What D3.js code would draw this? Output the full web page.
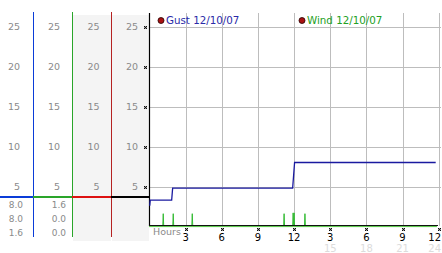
<!DOCTYPE html>
<html><head><meta charset="utf-8">
<script src="https://cdn.jsdelivr.net/npm/d3@7"></script>
<style>
html,body{margin:0;padding:0;background:#fff;}
svg{display:block;font-family:"DejaVu Sans",Verdana,sans-serif;}
</style></head>
<body>
<svg id="c" width="442" height="253"></svg>
<script>
// ---- data ----
const yTicks = [5, 10, 15, 20, 25];
const hourTicks = [3, 6, 9, 12, 15, 18, 21, 24];
const hourLabels = ["3", "6", "9", "12", "3", "6", "9", "12"];
const hourLabels24 = ["", "", "", "", "15", "18", "21", "24"];
const gustHours = [0.02, 0.06, 1.84, 1.92, 11.88, 11.96, 12.04, 23.75];
const gustMph   = [2.6,  3.3,  3.3,  4.8,  4.8,   6.4,   8.0,   8.0];
const windHours = [0, 1.1, 1.14, 1.18, 1.93, 1.97, 2.01, 3.51, 3.55, 3.59, 11.13, 11.17, 11.21, 11.88, 11.92, 11.96, 12.0, 12.04, 12.86, 12.9, 12.94, 23.8];
const windMph   = [0, 0,   1.6,  0,    0,    1.6,  0,    0,    1.6,  0,    0,     1.6,   0,     0,     1.7,   0.2,   1.7,  0,     0,     1.6,   0,     0];
const legendNames = ["Gust 12/10/07", "Wind 12/10/07"];
const colStats = [["8.0", "8.0", "1.6"], ["1.6", "0.0", "0.0"]];
const markerValue = 3.7;

// ---- scales ----
const svg = d3.select("#c");
const x = d3.scaleLinear().domain([0, 24]).range([149.5, 438.7]);
const y = d3.scaleLinear().domain([0, 25]).range([226.5, 26.5]);

// left panel backgrounds
svg.append("rect").attr("x", 73).attr("y", 15).attr("width", 38).attr("height", 226).attr("fill", "#f4f4f4");
svg.append("rect").attr("x", 112).attr("y", 15).attr("width", 37).attr("height", 226).attr("fill", "#f4f4f4");

// horizontal gridlines
svg.append("g").selectAll("line").data(yTicks).join("line")
  .attr("x1", 150).attr("x2", 441)
  .attr("y1", d => Math.round(y(d)) + 0.5).attr("y2", d => Math.round(y(d)) + 0.5)
  .attr("stroke", "#bdbdbd").attr("stroke-width", 1);
// vertical gridlines
svg.append("g").selectAll("line").data(hourTicks).join("line")
  .attr("x1", d => Math.round(x(d)) + 0.5).attr("x2", d => Math.round(x(d)) + 0.5)
  .attr("y1", 13).attr("y2", 226)
  .attr("stroke", "#bdbdbd").attr("stroke-width", 1);

// left column labels
const colRight = [20, 60, 99.5, 138];
colRight.forEach(cx => {
  svg.append("g").selectAll("text").data(yTicks).join("text")
    .attr("x", cx).attr("y", d => y(d) + 3.5)
    .attr("text-anchor", "end").attr("font-size", 9.5).attr("fill", "#8a8a8a")
    .text(d => d);
});

// stats under columns
const statRight = [23, 66];
colStats.forEach((arr, i) => {
  svg.append("g").selectAll("text").data(arr).join("text")
    .attr("x", statRight[i]).attr("y", (d, j) => 207.5 + j * 14)
    .attr("text-anchor", "end").attr("font-size", 9).attr("fill", "#8a8a8a")
    .text(d => d);
});

// column divider lines
const colLines = [[33.5, "#0a3cd8"], [72.5, "#2aa52a"], [111.5, "#b52222"]];
colLines.forEach(([cx, col]) => {
  svg.append("line").attr("x1", cx).attr("x2", cx).attr("y1", 12).attr("y2", 237)
    .attr("stroke", col).attr("stroke-width", 1);
});

// thick marker line across panels
const my = Math.round(y(markerValue)) ;
const segs = [[0, 33, "#0a3cd8"], [33, 72, "#2aa52a"], [72, 111, "#dd1111"], [111, 149, "#000"]];
segs.forEach(([a, b, col]) => {
  svg.append("rect").attr("x", a).attr("y", my - 1).attr("width", b - a).attr("height", 2).attr("fill", col);
});

// left axis line
svg.append("line").attr("x1", 149.5).attr("x2", 149.5).attr("y1", 13).attr("y2", 226).attr("stroke", "#000").attr("stroke-width", 1.2);

// small tick glyphs
function glyph(g, gx, gy) {
  [[0,0],[2,0],[1,1],[0,2],[2,2]].forEach(([dx, dy]) => {
    g.append("rect").attr("x", gx + dx).attr("y", gy + dy).attr("width", 1).attr("height", 1).attr("fill", "#111");
  });
  [[1,0],[0,1],[2,1],[1,2]].forEach(([dx, dy]) => {
    g.append("rect").attr("x", gx + dx).attr("y", gy + dy).attr("width", 1).attr("height", 1).attr("fill", "#999");
  });
}
const gg = svg.append("g");
yTicks.forEach(v => glyph(gg, 144, Math.round(y(v)) - 1));
hourTicks.forEach(h => glyph(gg, Math.round(x(h)) - 1, 228));

// wind line
const line = d3.line().x(d => x(d[0])).y(d => y(d[1]));
svg.append("path").datum(windHours.map((h, i) => [h, windMph[i]]))
  .attr("d", line).attr("fill", "none").attr("stroke", "#33bb33").attr("stroke-width", 1);

// bottom axis
svg.append("line").attr("x1", 149).attr("x2", 438).attr("y1", 225.5).attr("y2", 225.5).attr("stroke", "#111").attr("stroke-width", 1);
svg.append("line").attr("x1", 149).attr("x2", 437).attr("y1", 226.6).attr("y2", 226.6).attr("stroke", "#66cc55").attr("stroke-width", 1);

// gust line
svg.append("path").datum(gustHours.map((h, i) => [h, gustMph[i]]))
  .attr("d", line).attr("fill", "none").attr("stroke", "#1a1aa0").attr("stroke-width", 1.3);

// x tick labels
const lastI = hourTicks.length - 1;
const lx = (d, i) => i === lastI ? 441 : x(d);
const la = (d, i) => i === lastI ? "end" : "middle";
svg.append("g").selectAll("text").data(hourTicks).join("text")
  .attr("x", lx).attr("y", 241)
  .attr("text-anchor", la).attr("font-size", 10).attr("fill", "#000")
  .text((d, i) => hourLabels[i]);
svg.append("g").selectAll("text").data(hourTicks).join("text")
  .attr("x", lx).attr("y", 252)
  .attr("text-anchor", la).attr("font-size", 10).attr("fill", "#dcdcdc")
  .text((d, i) => hourLabels24[i]);
svg.append("text").attr("x", 153).attr("y", 235).attr("font-size", 9.5).attr("fill", "#8a8a8a").text("Hours");

// legend
const legX = [161, 302];
const legCol = ["#2a2aa8", "#22a022"];
legendNames.forEach((n, i) => {
  svg.append("circle").attr("cx", legX[i]).attr("cy", 20.5).attr("r", 3).attr("fill", "#aa1111").attr("stroke", "#220000").attr("stroke-width", 0.8);
  svg.append("text").attr("x", legX[i] + 5).attr("y", 24).attr("font-size", 10.3).attr("fill", legCol[i]).text(n);
});
</script>
</body></html>
